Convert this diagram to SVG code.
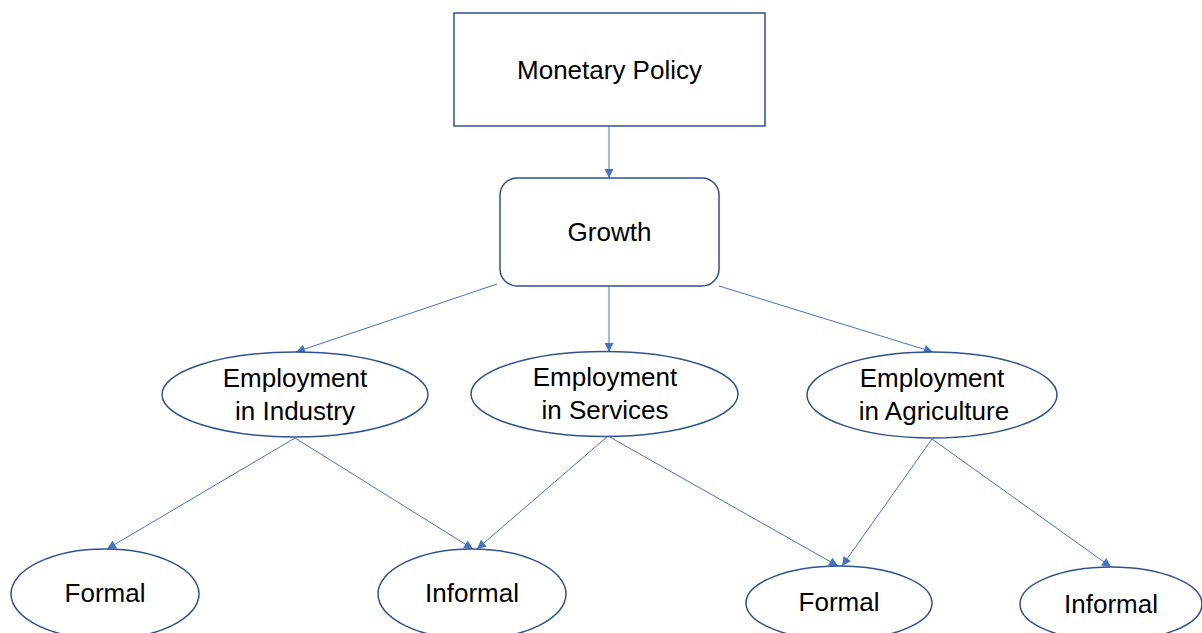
<svg xmlns="http://www.w3.org/2000/svg" width="1202" height="633" viewBox="0 0 1202 633">
<style>
.box{fill:#fff;stroke:#2F528F;stroke-width:1.5}
.lbl{font-family:"Liberation Sans",Arial,sans-serif;font-size:26px;fill:#000;text-anchor:middle}
.con{stroke:#4472C4;stroke-width:1;fill:none;marker-end:url(#arr)}
</style>
<defs>
<marker id="arr" viewBox="0 0 10 10" refX="10" refY="5" markerWidth="10" markerHeight="9" markerUnits="userSpaceOnUse" orient="auto">
<path d="M0,0 L10,5 L0,10 Z" fill="#4472C4"/>
</marker>
</defs>
<rect width="1202" height="633" fill="#fff"/>
<g id="connectors">
<line class="con" x1="609" y1="126" x2="609" y2="178"/>
<line class="con" x1="497" y1="284" x2="296" y2="352"/>
<line class="con" x1="609" y1="286" x2="609" y2="352"/>
<line class="con" x1="719" y1="286" x2="933" y2="352"/>
<line class="con" x1="295" y1="438" x2="107" y2="549"/>
<line class="con" x1="295" y1="438" x2="473" y2="549"/>
<line class="con" x1="608" y1="436" x2="477" y2="549"/>
<line class="con" x1="608" y1="436" x2="838" y2="566"/>
<line class="con" x1="932" y1="439" x2="842" y2="566"/>
<line class="con" x1="932" y1="439" x2="1111" y2="567"/>
</g>
<g id="monetary-policy">
<rect class="box" x="454" y="13" width="311" height="113"/>
<text class="lbl" x="609.5" y="79">Monetary Policy</text>
</g>
<g id="growth">
<rect class="box" x="500" y="178" width="219" height="108" rx="17"/>
<text class="lbl" x="609.5" y="241">Growth</text>
</g>
<g id="emp-industry">
<ellipse class="box" cx="295" cy="394.5" rx="133" ry="42.5"/>
<text class="lbl" x="295" y="387">Employment</text>
<text class="lbl" x="295" y="420">in Industry</text>
</g>
<g id="emp-services">
<ellipse class="box" cx="604.5" cy="394" rx="133.5" ry="42.5"/>
<text class="lbl" x="605" y="386">Employment</text>
<text class="lbl" x="605" y="419">in Services</text>
</g>
<g id="emp-agriculture">
<ellipse class="box" cx="932" cy="395" rx="125" ry="43"/>
<text class="lbl" x="932" y="387">Employment</text>
<text class="lbl" x="934" y="420">in Agriculture</text>
</g>
<g id="formal-1">
<ellipse class="box" cx="105" cy="594" rx="94" ry="45"/>
<text class="lbl" x="105" y="602">Formal</text>
</g>
<g id="informal-1">
<ellipse class="box" cx="472" cy="594" rx="94" ry="45"/>
<text class="lbl" x="472" y="602">Informal</text>
</g>
<g id="formal-2">
<ellipse class="box" cx="839" cy="603" rx="93" ry="37"/>
<text class="lbl" x="839" y="611">Formal</text>
</g>
<g id="informal-2">
<ellipse class="box" cx="1111" cy="604" rx="91" ry="37"/>
<text class="lbl" x="1111" y="613">Informal</text>
</g>
</svg>
